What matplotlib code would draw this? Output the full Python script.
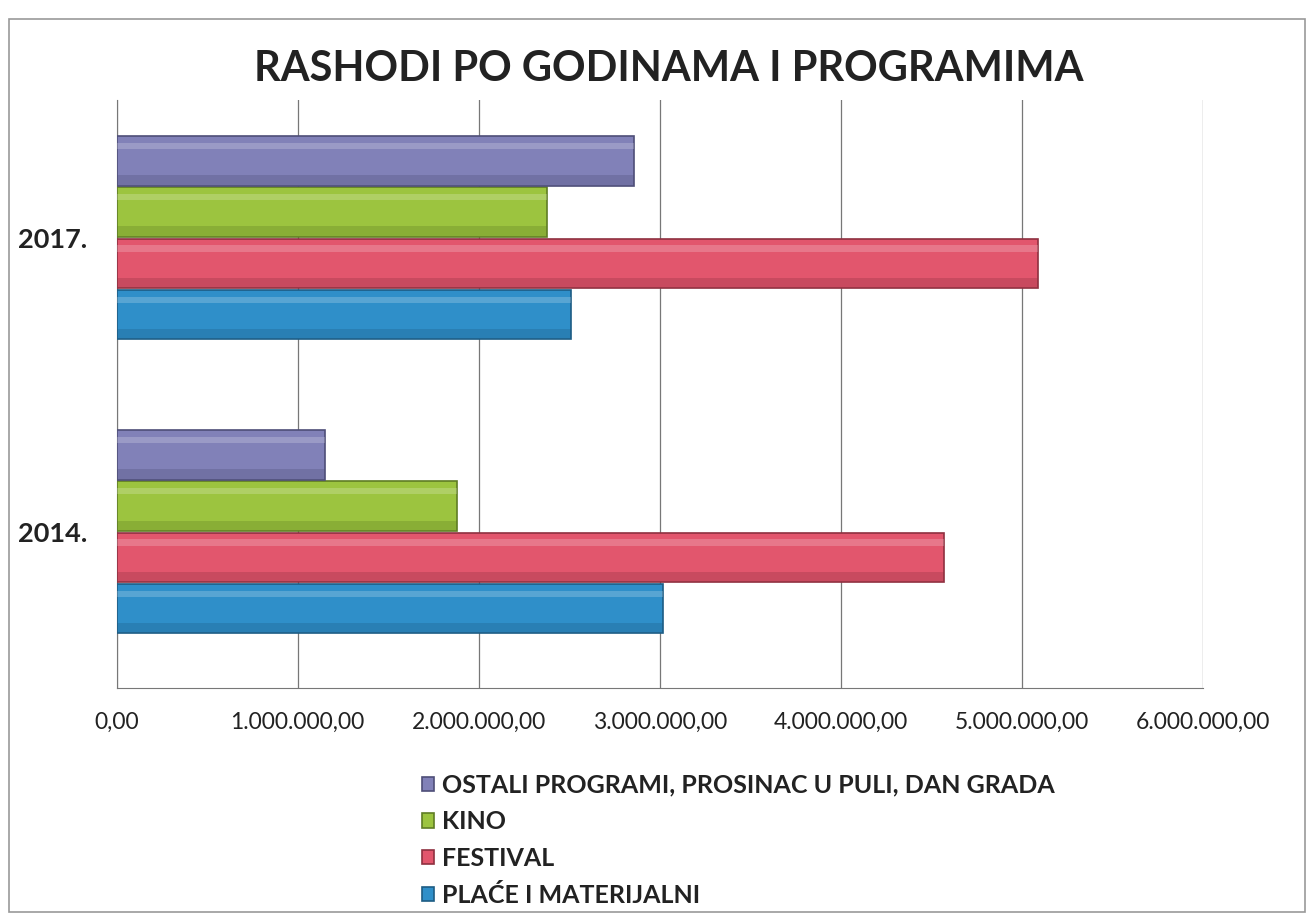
import matplotlib.pyplot as plt
import matplotlib.patches as mpatches
from matplotlib.ticker import FuncFormatter
import numpy as np

plt.rcParams['font.family'] = ['Lato', 'DejaVu Sans']

# data
years = ["2014.", "2017."]
series = ["PLAĆE I MATERIJALNI", "FESTIVAL", "KINO",
          "OSTALI PROGRAMI, PROSINAC U PULI, DAN GRADA"]
place = [3020000, 2510000]
festival = [4570000, 5090000]
kino = [1880000, 2380000]
ostali = [1150000, 2860000]
values = [place, festival, kino, ostali]
colors = ["#2f8fc9", "#e2566d", "#9cc43f", "#8181b8"]
edges = ["#1d5c84", "#8f3040", "#5f7d24", "#4e4e78"]
xticks = [0, 1e6, 2e6, 3e6, 4e6, 5e6, 6e6]

fig = plt.figure(figsize=(13.09, 9.16), dpi=100)
ax = fig.add_axes([0.089, 0.249, 0.830, 0.642])

y = np.arange(len(years))
h = 0.174
n = len(series)
for i, (vals, c, ec) in enumerate(zip(values, colors, edges)):
    yy = y + (i - (n - 1) / 2) * h
    ax.barh(yy, vals, height=h * 0.97, color=c, edgecolor=ec, linewidth=1.2,
            zorder=3, label=series[i])
    # bevel: darker lower strip, soft light upper strip
    ax.barh(yy - h * 0.37, vals, height=h * 0.18, color=ec, alpha=0.3,
            linewidth=0, zorder=4)
    ax.barh(yy + h * 0.29, vals, height=h * 0.12, color="white", alpha=0.2,
            linewidth=0, zorder=4)

ax.set_xlim(0, 6e6)
ax.set_ylim(-0.531, 1.469)
ax.set_xticks(xticks)
ax.xaxis.set_major_formatter(FuncFormatter(
    lambda v, p: f"{v:,.2f}".replace(",", "X").replace(".", ",").replace("X", ".")))
ax.set_yticks(y)
ax.set_yticklabels(years, fontsize=19.5, fontweight="bold", color="#222222")
ax.tick_params(axis="x", length=0, pad=17, labelsize=16.5, labelcolor="#222222")
ax.tick_params(axis="y", length=0, pad=21)
ax.grid(axis="x", color="#777777", linewidth=0.9, zorder=0)
for s in ["top", "right"]:
    ax.spines[s].set_visible(False)
ax.spines["left"].set_color("#777777")
ax.spines["bottom"].set_color("#777777")

fig.text(0.511, 0.925, "RASHODI PO GODINAMA I PROGRAMIMA", ha="center",
         va="center", fontsize=30, fontweight="bold", color="#222222")

handles, labels = ax.get_legend_handles_labels()
leg = fig.legend(handles[::-1], labels[::-1], loc="upper left",
                 bbox_to_anchor=(0.305, 0.18), frameon=False,
                 prop={"weight": "bold", "size": 18}, handlelength=0.5,
                 handleheight=0.5, handletextpad=0.3, labelspacing=0.55)
for t in leg.get_texts():
    t.set_color("#222222")

# outer chart border
fig.patches.append(mpatches.Rectangle((0.007, 0.004), 0.99, 0.975,
                   transform=fig.transFigure, fill=False,
                   edgecolor="#999999", linewidth=1.2))

fig.savefig("out.png", dpi=100)
